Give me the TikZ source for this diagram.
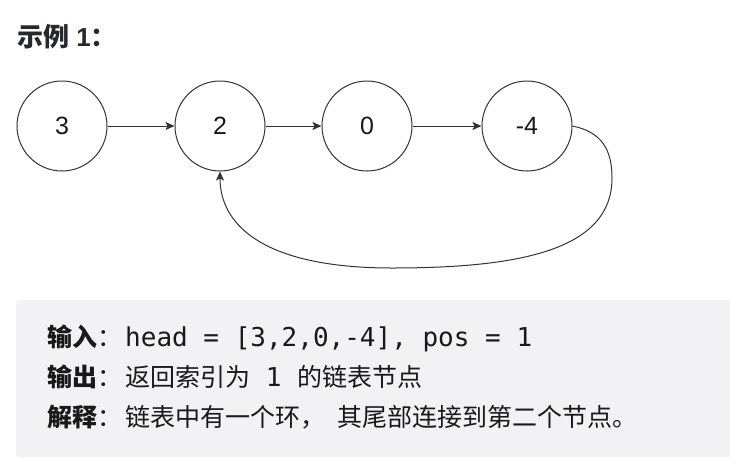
\documentclass[tikz,border=0pt]{standalone}
\usepackage{fontspec}
\setmainfont{Liberation Sans}
\setmonofont{DejaVu Sans Mono}
\newfontfamily\cjk{Noto Sans CJK SC}
\usetikzlibrary{positioning, arrows.meta}

\definecolor{inkgray}{RGB}{51,51,51}
\definecolor{titlegray}{RGB}{38,40,45}
\definecolor{panelgray}{RGB}{242,242,244}

\begin{document}
\begin{tikzpicture}[
    x=1pt, y=-1pt,
    % Estilos
    listnode/.style={
        draw=inkgray, circle, line width=1pt, fill=white,
        minimum size=90pt, inner sep=0pt,
        font=\fontsize{25}{30}\selectfont, text=black!90
    },
    panel/.style={
        fill=panelgray, rounded corners=4pt, inner sep=0pt,
        minimum width=730pt, minimum height=157pt
    },
    textline/.style={
        anchor=base west, inner sep=0pt,
        font=\fontsize{25}{28}\selectfont, text=black!90
    },
    link/.style={-{Stealth[length=9pt, width=8pt, inset=2pt]}, line width=1pt, color=inkgray}
]
    \useasboundingbox (0,0) rectangle (730,458);

    % --- TITULO ---
    \node[anchor=base west, inner sep=0pt, text=titlegray,
          font=\fontsize{26}{30}\selectfont] (title) at (17,46)
        {{\cjk\bfseries 示例} {\bfseries 1}{\cjk\bfseries ：}};

    % --- NÓS DA LISTA ---
    \node[listnode] (n3) at (62,126) {3};
    \node[listnode, right=67pt of n3] (n2) {2};
    \node[listnode, right=56pt of n2] (n0) {0};
    \node[listnode, right=69pt of n0] (nm4) {-4};

    % --- CONEXÕES ---
    \draw[link] (n3.east) -- (n2.west);
    \draw[link] (n2.east) -- (n0.west);
    \draw[link] (n0.east) -- (nm4.west);

    % Ciclo: cauda volta para o segundo nó
    \coordinate (loop_r) at (612,178);
    \coordinate (loop_b) at (392,268);
    \draw[link] (nm4.east) .. controls (602,132) and (612,150) .. (loop_r)
        .. controls (612,250) and (520,268) .. (loop_b)
        .. controls (262,268) and (220,224) .. (n2.south);

    % --- CAIXA DE EXEMPLO ---
    \node[panel, anchor=north west] (panel) at (16,300) {};

    \node[textline] (l_in) at (47,346)
        {{\cjk\bfseries 输入}{\cjk ：}\hspace{3pt}\texttt{\fontsize{26}{28}\selectfont head = [3,2,0,-4], pos = 1}};
    \node[textline] (l_out) at (47,386)
        {{\cjk\bfseries 输出}{\cjk ：}\hspace{3pt}{\cjk 返回索引为}\texttt{\fontsize{26}{28}\selectfont\ 1\ }{\cjk 的链表节点}};
    \node[textline] (l_exp) at (47,426)
        {{\cjk\bfseries 解释}{\cjk ：}\hspace{3pt}{\cjk 链表中有一个环，\hspace{12pt}其尾部连接到第二个节点。}};

\end{tikzpicture}
\end{document}
